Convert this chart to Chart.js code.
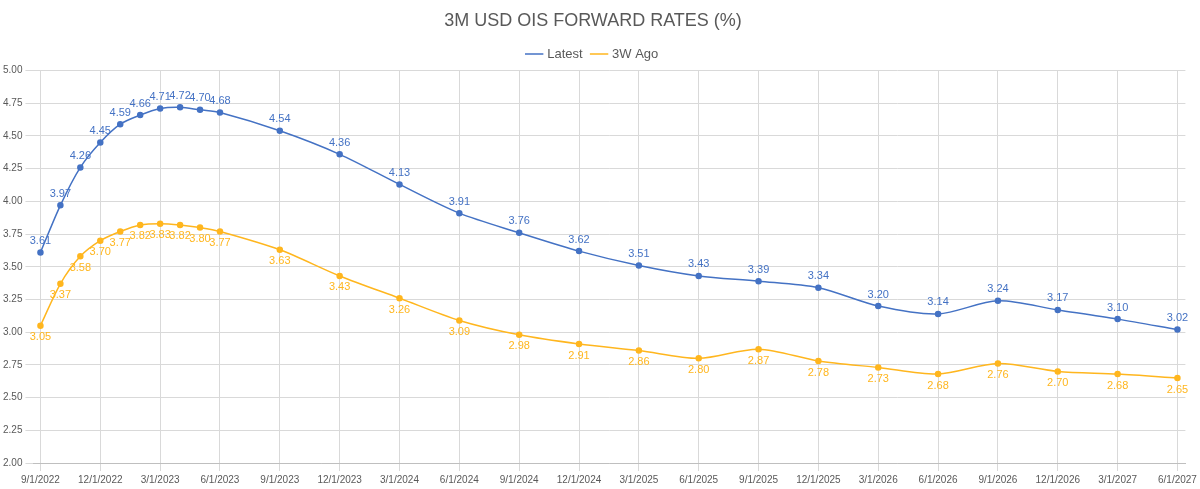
<!DOCTYPE html>
<html><head><meta charset="utf-8">
<script src="https://cdn.jsdelivr.net/npm/chart.js@4"></script>
<style>html,body{margin:0;background:#fff}#w{width:1200px;height:489px}</style>
</head><body><div id="w"><canvas id="c"></canvas></div>
<script>
const dates = ["9/1/2022","10/1/2022","11/1/2022","12/1/2022","1/1/2023","2/1/2023","3/1/2023","4/1/2023","5/1/2023","6/1/2023","9/1/2023","12/1/2023","3/1/2024","6/1/2024","9/1/2024","12/1/2024","3/1/2025","6/1/2025","9/1/2025","12/1/2025","3/1/2026","6/1/2026","9/1/2026","12/1/2026","3/1/2027","6/1/2027"];
const latest = [3.61,3.97,4.26,4.45,4.59,4.66,4.71,4.72,4.70,4.68,4.54,4.36,4.13,3.91,3.76,3.62,3.51,3.43,3.39,3.34,3.20,3.14,3.24,3.17,3.10,3.02];
const ago3w = [3.05,3.37,3.58,3.70,3.77,3.82,3.83,3.82,3.80,3.77,3.63,3.43,3.26,3.09,2.98,2.91,2.86,2.80,2.87,2.78,2.73,2.68,2.76,2.70,2.68,2.65];
const tickLabels = ["9/1/2022","12/1/2022","3/1/2023","6/1/2023","9/1/2023","12/1/2023","3/1/2024","6/1/2024","9/1/2024","12/1/2024","3/1/2025","6/1/2025","9/1/2025","12/1/2025","3/1/2026","6/1/2026","9/1/2026","12/1/2026","3/1/2027","6/1/2027"];

const mi = s => { const [m,d,y] = s.split('/').map(Number); return (y-2022)*12 + m - 9; };
const pts = arr => arr.map((v,i)=>({x:mi(dates[i]), y:v}));
const BLUE='#4472C4', ORANGE='#FFB61E';

const labelPlugin = {
  id:'lbl',
  afterDatasetsDraw(chart){
    const ctx=chart.ctx;
    ctx.save(); ctx.font='11px "Liberation Sans", Arial'; ctx.textAlign='center';
    chart.data.datasets.forEach((ds,di)=>{
      const meta=chart.getDatasetMeta(di);
      ctx.fillStyle=ds.borderColor;
      meta.data.forEach((el,i)=>{
        const v=ds.data[i].y.toFixed(2);
        if(di===0){ctx.textBaseline='bottom';ctx.fillText(v,el.x,el.y-6);}
        else{ctx.textBaseline='top';ctx.fillText(v,el.x,el.y+6);}
      });
    });
    ctx.restore();
  }
};

new Chart(document.getElementById('c'),{
  type:'line',
  data:{datasets:[
    {label:'Latest',data:pts(latest),borderColor:BLUE,backgroundColor:BLUE,borderWidth:1.5,pointRadius:2.5,tension:0.3},
    {label:'3W Ago',data:pts(ago3w),borderColor:ORANGE,backgroundColor:ORANGE,borderWidth:1.5,pointRadius:2.5,tension:0.3}
  ]},
  options:{
    responsive:true,maintainAspectRatio:false,animation:false,
    layout:{padding:{left:0,right:14,top:4,bottom:0}},
    plugins:{
      title:{display:true,text:'3M USD OIS FORWARD RATES (%)',color:'#595959',font:{size:18,family:'"Liberation Sans", Arial',weight:'normal'},padding:{top:6,bottom:6}},
      legend:{labels:{usePointStyle:true,pointStyle:'line',color:'#595959',font:{size:13}}},
      tooltip:{enabled:false}
    },
    scales:{
      x:{type:'linear',min:-0.35,max:57.4,
        afterBuildTicks(ax){ax.ticks=tickLabels.map(t=>({value:mi(t)}));},
        ticks:{color:'#595959',font:{size:10},maxRotation:0,autoSkip:false,
          callback:(v)=>{const t=tickLabels.find(s=>mi(s)===v);return t||'';}},
        grid:{color:'#D9D9D9'},border:{color:'#BFBFBF'}},
      y:{min:2,max:5,ticks:{stepSize:0.25,color:'#595959',font:{size:10},callback:v=>v.toFixed(2)},
        grid:{color:'#D9D9D9'},border:{display:false}}
    }
  },
  plugins:[labelPlugin]
});
</script></body></html>
